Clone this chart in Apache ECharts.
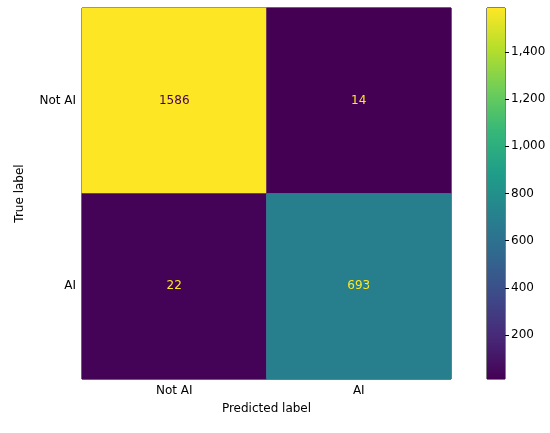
<!DOCTYPE html><html><head><meta charset="utf-8">
<script src="https://cdn.jsdelivr.net/npm/echarts@6/dist/echarts.min.js"></script>
<style>html,body{margin:0;background:#fff}#c{width:550px;height:433px}</style></head><body><div id="c"></div><script>
const predLabels=['Not AI','AI'];
const trueLabels=['Not AI','AI'];
const matrix=[[1586,14],[22,693]];
const cbTicks=[200,400,600,800,1000,1200,1400];
const viridis=['#440154','#482878','#3e4989','#31688e','#26828e','#1f9e89','#35b779','#6ece58','#b5de2b','#fde725'];
const vmin=14,vmax=1586;
const data=[];
matrix.forEach((row,i)=>row.forEach((v,j)=>data.push([j,trueLabels.length-1-i,v])));
const font='DejaVu Sans';
const chart=echarts.init(document.getElementById('c'));
chart.setOption({
 animation:false,
 textStyle:{fontFamily:font},
 grid:[{left:82,top:8,width:369,height:371,show:true,borderColor:'#000',borderWidth:1},
       {left:487,top:8,width:18,height:371,show:true,borderColor:'#000',borderWidth:1}],
 xAxis:[{type:'category',gridIndex:0,data:predLabels,name:'Predicted label',nameLocation:'middle',nameGap:24,
   nameTextStyle:{color:'#000',fontSize:12,fontFamily:font},
   axisLine:{show:false},axisTick:{alignWithLabel:true,length:4,lineStyle:{color:'#000'}},
   axisLabel:{color:'#000',fontSize:12,fontFamily:font,margin:6},splitLine:{show:false}},
  {type:'category',gridIndex:1,data:['c'],show:false}],
 yAxis:[{type:'category',gridIndex:0,data:trueLabels.slice().reverse(),name:'True label',nameLocation:'middle',nameGap:56,nameRotate:90,
   nameTextStyle:{color:'#000',fontSize:12,fontFamily:font},
   axisLine:{show:false},axisTick:{alignWithLabel:true,length:4,lineStyle:{color:'#000'}},
   axisLabel:{color:'#000',fontSize:12,fontFamily:font,margin:6},splitLine:{show:false}},
  {type:'value',gridIndex:1,position:'right',min:vmin,max:vmax,
   axisLine:{show:false},axisTick:{show:true,length:4,customValues:cbTicks,lineStyle:{color:'#000'}},
   axisLabel:{color:'#000',fontSize:12,fontFamily:font,margin:6,customValues:cbTicks},splitLine:{show:false}}],
 visualMap:{show:false,min:vmin,max:vmax,seriesIndex:0,inRange:{color:viridis}},
 series:[{type:'heatmap',xAxisIndex:0,yAxisIndex:0,data:data,
   label:{show:true,fontSize:12,fontFamily:font,formatter:p=>String(p.value[2]),
     color:'#fde725',rich:{}},
   itemStyle:{borderWidth:0}},
  {type:'bar',xAxisIndex:1,yAxisIndex:1,data:[vmax],barWidth:'100%',silent:true,
   itemStyle:{color:new echarts.graphic.LinearGradient(0,1,0,0,viridis.map((c,i)=>({offset:i/(viridis.length-1),color:c})))}}]
});
// per-cell text colour like matplotlib: dark on bright cells
chart.setOption({series:[{data:data.map(d=>({value:d,label:{color:d[2]>(vmin+vmax)/2?'#440154':'#fde725'}}))}]});
</script></body></html>
